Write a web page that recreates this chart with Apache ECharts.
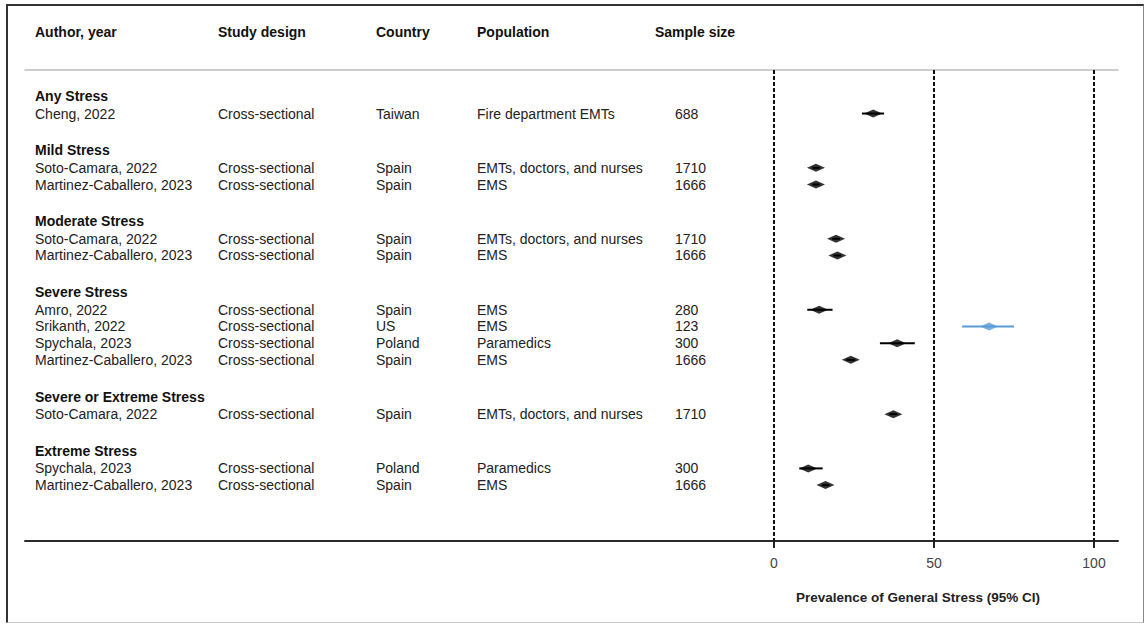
<!DOCTYPE html>
<html>
<head>
<meta charset="utf-8">
<script src="https://cdn.jsdelivr.net/npm/echarts@6/dist/echarts.min.js"></script>
<style>
html, body { margin: 0; padding: 0; background: #fff; }
#frame { position: absolute; left: 6px; top: 4px; width: 1138px; height: 619px; box-sizing: border-box;
  border: 2px solid #333; border-bottom: 1px solid #c8c8c8; border-right: 1px solid #888; }
#chart { position: absolute; left: 0; top: 0; width: 1148px; height: 624px; }
</style>
</head>
<body>
<div id="frame"></div>
<div id="chart"></div>
<script>
// table headers
const headers = ['Author, year', 'Study design', 'Country', 'Population', 'Sample size'];

// subgroups, and which subgroup each study sits in
const groupNames = ['Any Stress', 'Mild Stress', 'Moderate Stress', 'Severe Stress', 'Severe or Extreme Stress', 'Extreme Stress'];
const studyGroup = [0, 1, 1, 2, 2, 3, 3, 3, 3, 4, 5, 5];

// study rows
const authors = ['Cheng, 2022', 'Soto-Camara, 2022', 'Martinez-Caballero, 2023', 'Soto-Camara, 2022',
  'Martinez-Caballero, 2023', 'Amro, 2022', 'Srikanth, 2022', 'Spychala, 2023', 'Martinez-Caballero, 2023',
  'Soto-Camara, 2022', 'Spychala, 2023', 'Martinez-Caballero, 2023'];
const designs = ['Cross-sectional', 'Cross-sectional', 'Cross-sectional', 'Cross-sectional', 'Cross-sectional',
  'Cross-sectional', 'Cross-sectional', 'Cross-sectional', 'Cross-sectional', 'Cross-sectional',
  'Cross-sectional', 'Cross-sectional'];
const countries = ['Taiwan', 'Spain', 'Spain', 'Spain', 'Spain', 'Spain', 'US', 'Poland', 'Spain', 'Spain', 'Poland', 'Spain'];
const populations = ['Fire department EMTs', 'EMTs, doctors, and nurses', 'EMS', 'EMTs, doctors, and nurses', 'EMS',
  'EMS', 'EMS', 'Paramedics', 'EMS', 'EMTs, doctors, and nurses', 'Paramedics', 'EMS'];
const sampleSizes = [688, 1710, 1666, 1710, 1666, 280, 123, 300, 1666, 1710, 300, 1666];

// prevalence (%) with 95% CI
const prevalence = [31.0, 13.1, 13.1, 19.4, 19.8, 14.1, 67.2, 38.5, 24.0, 37.3, 10.7, 16.1];
const ciLow      = [27.5, 12.0, 12.0, 18.2, 18.6, 10.4, 58.8, 33.1, 22.6, 36.0, 7.9, 15.0];
const ciHigh     = [34.4, 14.3, 14.3, 20.6, 21.0, 18.3, 75.0, 44.0, 25.4, 38.6, 15.2, 17.3];

// x-axis ticks
const xTicks = [0, 50, 100];

// ---- layout / style ----
const FONT = '"Liberation Sans", Arial, Helvetica, sans-serif';
const colX = [35, 218, 376, 477, 675];
const headX = [35, 218, 376, 477, 655];
const HIGHLIGHT = 6;          // Srikanth row drawn in blue
const BLUE = '#5b9bd5';
const HEAD_POS = -3.83;

// row positions in "row units": header -> first study 1.05, study step 1, gap between groups 2.2
let pos = 0;
const groupPos = [];
const studyPos = [];
groupNames.forEach((g, gi) => {
  groupPos[gi] = pos;
  pos += 1.05;
  studyGroup.forEach((sg, i) => {
    if (sg === gi) { studyPos[i] = pos; pos += 1; }
  });
  pos += 1.2;
});

const tableRows = [{ kind: 'head', pos: HEAD_POS, cells: headers }];
groupNames.forEach((g, gi) => {
  tableRows.push({ kind: 'group', pos: groupPos[gi], cells: [g] });
  studyGroup.forEach((sg, i) => {
    if (sg === gi) {
      tableRows.push({ kind: 'study', pos: studyPos[i],
        cells: [authors[i], designs[i], countries[i], populations[i], String(sampleSizes[i])] });
    }
  });
});

let myChart = echarts.init(document.getElementById('chart'), null, { renderer: 'svg' });

let option = {
  animation: false,
  backgroundColor: 'transparent',
  grid: [
    { left: 774, right: 54, top: 70, bottom: 83 },
    { left: 25, right: 30, top: 70, bottom: 83 }
  ],
  xAxis: [
    {
      gridIndex: 0, type: 'value', min: 0, max: 100, interval: 50,
      axisLine: { show: true, onZero: false, lineStyle: { color: '#2b2b2b', width: 2 } },
      axisTick: { show: true, length: 7, lineStyle: { color: '#222', width: 2 } },
      axisLabel: { color: '#444', fontSize: 14, fontFamily: FONT, margin: 15,
        formatter: v => xTicks.indexOf(v) >= 0 ? String(v) : '' },
      splitLine: { show: false },
      name: 'Prevalence of General Stress (95% CI)',
      nameLocation: 'middle', nameGap: 49,
      nameTextStyle: { color: '#222', fontWeight: 'bold', fontSize: 13.5, fontFamily: FONT, padding: [0, 32, 0, 0] }
    },
    {
      gridIndex: 1, type: 'value', min: 0, max: 1, position: 'bottom',
      axisLine: { show: true, onZero: false, lineStyle: { color: '#2b2b2b', width: 2 } },
      axisTick: { show: false }, axisLabel: { show: false }, splitLine: { show: false }
    },
    {
      gridIndex: 1, type: 'value', min: 0, max: 1, position: 'top',
      axisLine: { show: true, onZero: false, lineStyle: { color: '#bdbdbd', width: 1.5 } },
      axisTick: { show: false }, axisLabel: { show: false }, splitLine: { show: false }
    }
  ],
  yAxis: [
    { gridIndex: 0, type: 'value', inverse: true, min: -1.557, max: 26.647, show: false },
    { gridIndex: 1, type: 'value', min: 0, max: 1, show: false }
  ],
  series: [
    {
      // table text
      type: 'custom',
      xAxisIndex: 0, yAxisIndex: 0,
      silent: true,
      clip: false,
      data: tableRows.map(r => [0, r.pos]),
      encode: { x: 0, y: 1 },
      renderItem: function (params, api) {
        let row = tableRows[params.dataIndex];
        let y = api.coord([0, api.value(1)])[1];
        let xs = row.kind === 'head' ? headX : colX;
        let bold = row.kind !== 'study';
        return {
          type: 'group',
          children: row.cells.map((t, k) => ({
            type: 'text',
            style: {
              x: xs[k], y: y, text: t,
              fill: bold ? '#111' : '#222',
              font: (bold ? 'bold ' : '') + '14px ' + FONT,
              align: 'left', verticalAlign: 'middle',
              textAlign: 'left', textVerticalAlign: 'middle'
            }
          }))
        };
      },
      z: 5
    },
    {
      // confidence intervals
      type: 'custom',
      xAxisIndex: 0, yAxisIndex: 0,
      silent: true,
      data: ciLow.map((lo, i) => [lo, ciHigh[i], studyPos[i]]),
      encode: { x: [0, 1], y: 2 },
      renderItem: function (params, api) {
        let p1 = api.coord([api.value(0), api.value(2)]);
        let p2 = api.coord([api.value(1), api.value(2)]);
        return {
          type: 'line',
          shape: { x1: p1[0], y1: p1[1], x2: p2[0], y2: p2[1] },
          style: { stroke: params.dataIndex === HIGHLIGHT ? BLUE : '#000', lineWidth: 2 }
        };
      },
      z: 3
    },
    {
      // point estimates
      type: 'scatter',
      xAxisIndex: 0, yAxisIndex: 0,
      symbol: 'diamond',
      symbolSize: [18, 8],
      silent: true,
      data: prevalence.map((v, i) => ({
        value: [v, studyPos[i]],
        itemStyle: { color: i === HIGHLIGHT ? BLUE : '#000' }
      })),
      markLine: {
        silent: true,
        symbol: ['none', 'none'],
        label: { show: false },
        lineStyle: { color: '#111', type: [4, 2], width: 2 },
        data: xTicks.map(t => ({ xAxis: t }))
      },
      z: 4
    }
  ]
};

myChart.setOption(option, true);
window.addEventListener('resize', function () {
  myChart.resize();
});
</script>
</body>
</html>
